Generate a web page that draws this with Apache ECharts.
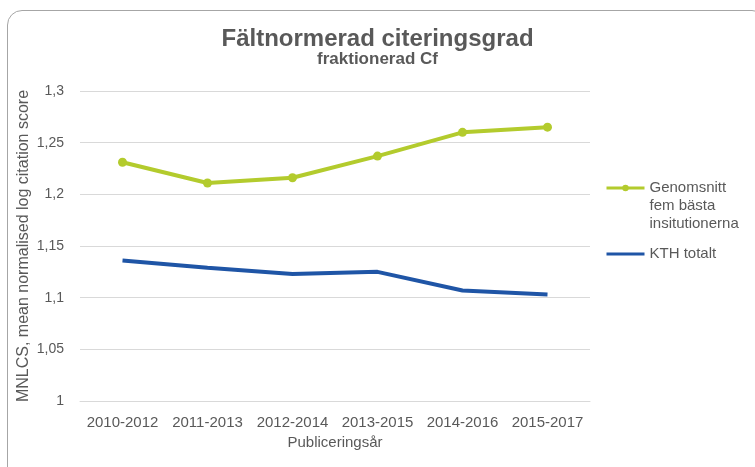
<!DOCTYPE html>
<html>
<head>
<meta charset="utf-8">
<script src="https://cdn.jsdelivr.net/npm/echarts@6/dist/echarts.min.js"></script>
<style>
  html, body { margin: 0; padding: 0; background: #fff; overflow: hidden; }
  #frame {
    position: absolute; left: 7px; top: 10px; width: 760px; height: 480px;
    border: 1px solid #a6a6a6; border-radius: 15px; box-sizing: border-box;
  }
  #chart { position: absolute; left: 0; top: 0; width: 755px; height: 467px; }
</style>
</head>
<body>
<div id="frame"></div>
<div id="chart"></div>
<script>
const periods = ['2010-2012', '2011-2013', '2012-2014', '2013-2015', '2014-2016', '2015-2017']
const topFive = [1.231, 1.211, 1.216, 1.237, 1.260, 1.265]
const kthTotal = [1.136, 1.129, 1.123, 1.125, 1.107, 1.103]
const topFiveName = 'Genomsnitt\nfem bästa\ninsitutionerna'
const kthName = 'KTH totalt'

const chart = echarts.init(document.getElementById('chart'))
const txt = '#595959'
const font = 'Liberation Sans'

const option = {
  animation: false,
  title: {
    text: 'Fältnormerad citeringsgrad',
    subtext: 'fraktionerad Cf',
    left: 'center',
    top: 22,
    itemGap: 0,
    textStyle: { fontFamily: font, fontSize: 24, fontWeight: 'bold', color: txt },
    subtextStyle: { fontFamily: font, fontSize: 17, fontWeight: 'bold', color: txt }
  },
  legend: {
    orient: 'vertical',
    left: 600,
    top: 138,
    itemWidth: 38,
    itemHeight: 8,
    itemGap: 12,
    lineStyle: { width: 3 },
    textStyle: { fontFamily: font, fontSize: 15, color: txt, lineHeight: 18 },
    // multi-line name: pad with blank lines so the icon sits on the first line
    formatter: name => name === topFiveName ? ' \n \n' + name : name,
    data: [
      { name: topFiveName },
      { name: kthName, itemStyle: { opacity: 0 } }
    ]
  },
  grid: { left: 80, right: 165, top: 91, bottom: 66 },
  xAxis: {
    type: 'category',
    data: periods,
    name: 'Publiceringsår',
    nameLocation: 'middle',
    nameGap: 34,
    nameTextStyle: { fontFamily: font, fontSize: 15, color: txt },
    axisLine: { lineStyle: { color: '#d9d9d9' } },
    axisTick: { show: false },
    axisLabel: { fontFamily: font, fontSize: 15, color: txt, margin: 14, interval: 0 }
  },
  yAxis: {
    type: 'value',
    min: 1,
    max: 1.3,
    interval: 0.05,
    name: 'MNLCS, mean normalised log citation score',
    nameLocation: 'middle',
    nameGap: 48,
    nameMoveOverlap: false,
    nameTextStyle: { fontFamily: font, fontSize: 16, color: txt },
    axisLine: { show: false },
    axisTick: { show: false },
    splitLine: { lineStyle: { color: '#d9d9d9' } },
    axisLabel: {
      fontFamily: font, fontSize: 14, color: txt, margin: 16,
      formatter: v => String(Math.round(v * 100) / 100).replace('.', ',')
    }
  },
  series: [
    {
      name: topFiveName,
      type: 'line',
      data: topFive,
      symbol: 'circle',
      symbolSize: 9,
      lineStyle: { width: 4, color: '#b3cb2d' },
      itemStyle: { color: '#b3cb2d' }
    },
    {
      name: kthName,
      type: 'line',
      data: kthTotal,
      symbol: 'none',
      lineStyle: { width: 4, color: '#1f55a6' },
      itemStyle: { color: '#1f55a6' }
    }
  ]
}
chart.setOption(option)
</script>
</body>
</html>
